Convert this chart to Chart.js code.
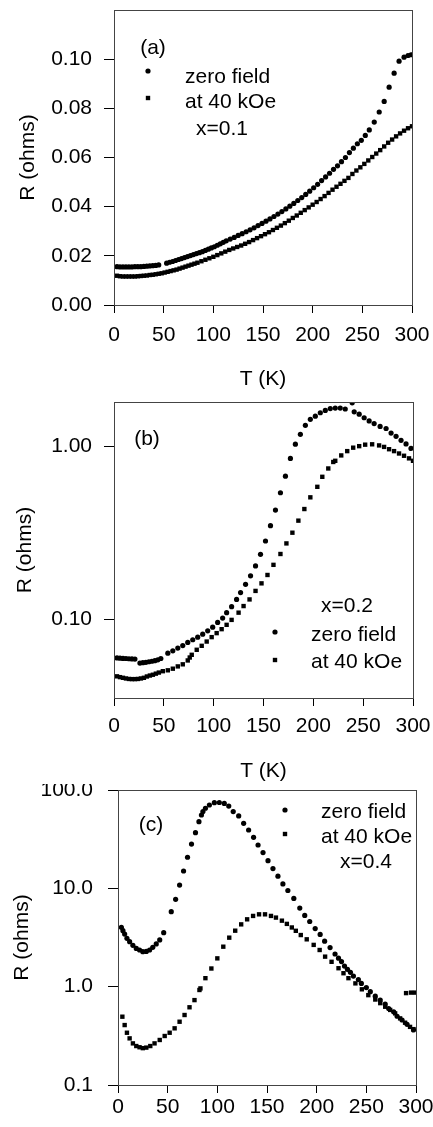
<!DOCTYPE html>
<html>
<head>
<meta charset="utf-8">
<script src="https://cdn.jsdelivr.net/npm/chart.js@4.4.1/dist/chart.umd.min.js"></script>
<style>
  html, body { margin: 0; padding: 0; background: #fff; }
  body { width: 433px; height: 1127px; position: relative; overflow: hidden; }
  canvas { position: absolute; left: 0; }
</style>
</head>
<body>
<canvas id="chartA" width="433" height="392" style="top:0px"></canvas>
<canvas id="chartB" width="433" height="392" style="top:392px"></canvas>
<canvas id="chartC" width="433" height="343" style="top:784px"></canvas>
<script>
// 공통 눈금
const xTicks = [0, 50, 100, 150, 200, 250, 300];
const aYTicks = [0, 0.02, 0.04, 0.06, 0.08, 0.10];
const bYTicks = [0.1, 1];
const cYTicks = [0.1, 1, 10, 100];

// (a) x=0.1
const aZeroT = [3,6,9,12,15,18,21,24,27,30,33,36,39,42,45,53,56,59,62,65,68,71,74,77,80,83,86,89,92,95,98,101,104,107,110,113,117,121,125,129,133,137,141,145,149,153,157,161,165,169,173,177,181,185,189,193,197,201,205,209,213,217,221,225,229,233,237,241,245,249,253,257,262,267,272,277,282,287,292,296,299];
const aZeroR = [0.0156,0.0155,0.0155,0.0155,0.0155,0.0155,0.0156,0.0156,0.0156,0.0157,0.0158,0.0159,0.0160,0.0161,0.0163,0.0170,0.0174,0.0177,0.0181,0.0185,0.0189,0.0193,0.0197,0.0201,0.0205,0.0209,0.0213,0.0217,0.0222,0.0227,0.0232,0.0237,0.0243,0.0249,0.0255,0.0261,0.0268,0.0275,0.0283,0.0290,0.0298,0.0306,0.0314,0.0323,0.0332,0.0341,0.0350,0.0360,0.0370,0.0380,0.0391,0.0402,0.0413,0.0425,0.0437,0.0450,0.0463,0.0477,0.0491,0.0506,0.0521,0.0536,0.0552,0.0566,0.0583,0.0600,0.0620,0.0638,0.0656,0.0670,0.0690,0.0712,0.0744,0.0785,0.0828,0.0886,0.0943,0.0992,0.1008,0.1015,0.1018];
const aFieldT = [3,6,9,12,15,18,21,24,27,30,33,36,39,42,45,48,51,54,57,60,63,66,69,72,75,78,81,84,88,92,96,100,104,108,112,116,120,124,128,132,136,140,144,148,152,156,160,164,168,172,176,180,184,188,192,196,200,204,208,212,216,220,224,228,232,236,240,244,248,252,256,260,264,268,272,276,280,284,288,292,296,300];
const aFieldR = [0.0119,0.0117,0.0116,0.0116,0.0116,0.0116,0.0116,0.0117,0.0118,0.0119,0.0120,0.0122,0.0123,0.0125,0.0127,0.0129,0.0132,0.0135,0.0138,0.0141,0.0144,0.0148,0.0152,0.0156,0.0160,0.0164,0.0168,0.0172,0.0178,0.0184,0.0190,0.0196,0.0203,0.0210,0.0217,0.0224,0.0230,0.0236,0.0242,0.0249,0.0256,0.0264,0.0272,0.0280,0.0288,0.0296,0.0305,0.0314,0.0323,0.0333,0.0343,0.0354,0.0364,0.0375,0.0386,0.0397,0.0408,0.0419,0.0431,0.0443,0.0456,0.0469,0.0481,0.0493,0.0505,0.0517,0.0533,0.0547,0.0560,0.0574,0.0588,0.0602,0.0616,0.0630,0.0645,0.0660,0.0673,0.0686,0.0698,0.0709,0.0719,0.0727];

// (b) x=0.2
const bZeroT = [3,6,9,12,15,18,21,26,29,32,35,38,41,44,47,54,59,64,69,74,79,84,89,94,99,104,109,113,118,123,127,132,137,142,147,152,157,162,167,172,177,182,187,192,197,202,207,212,217,222,227,232,239,241,246,251,256,261,267,273,278,283,288,293,298];
const bZeroR = [0.0597,0.0595,0.0593,0.0592,0.0590,0.0589,0.0588,0.0557,0.0560,0.0563,0.0567,0.0571,0.0575,0.0582,0.0592,0.0636,0.0656,0.0680,0.0703,0.0733,0.0760,0.0787,0.0819,0.0856,0.0899,0.0957,0.1014,0.109,0.118,0.130,0.1425,0.159,0.178,0.203,0.237,0.283,0.347,0.427,0.538,0.671,0.849,1.027,1.17,1.32,1.43,1.49,1.56,1.61,1.65,1.66,1.66,1.64,1.78,1.58,1.53,1.46,1.40,1.35,1.30,1.265,1.19,1.14,1.08,1.03,0.97];
const bFieldT = [3,6,9,12,15,18,21,24,27,30,33,36,39,42,45,49,54,59,64,69,74,76,78,83,88,93,98,103,108,113,118,125,130,136,142,148,154,160,167,173,179,185,191,197,204,209,215,220,222,228,234,240,246,252,259,266,271,276,281,286,291,296,300];
const bFieldR = [0.0467,0.0462,0.0458,0.0454,0.0451,0.0450,0.0450,0.0451,0.0454,0.0458,0.0466,0.0472,0.0477,0.0484,0.0491,0.0500,0.0506,0.0517,0.0533,0.0548,0.0577,0.0600,0.0622,0.0665,0.0701,0.0742,0.0787,0.083,0.0875,0.0927,0.099,0.109,0.119,0.130,0.1456,0.161,0.180,0.206,0.238,0.274,0.316,0.371,0.433,0.506,0.582,0.665,0.743,0.81,0.823,0.884,0.936,0.98,1.0,1.02,1.025,1.01,0.99,0.96,0.936,0.907,0.88,0.85,0.823];

// (c) x=0.4
const cZeroT = [3.4,5,6.7,9,11.7,15,18.4,21.7,25,28.5,31.8,35,38.5,42,46,53.6,58,62,66,70,74,78,81.5,84,85.5,88,92,97,102,107,111.5,116,121.5,126.5,131.5,136.5,141,146,151,156,161,166,171,177,183,188,193,198.5,203.5,208,213.5,218.5,222,225,228,231,234,237,242,245,250,254,259,264,269,272.5,277.5,281,286,291,297.5];
const cZeroR = [4.01,3.71,3.43,3.10,2.87,2.63,2.45,2.36,2.27,2.28,2.36,2.51,2.72,2.99,3.54,5.79,7.73,10.8,15.0,20.7,28.2,36.8,47.6,55.7,60.3,65.2,70.4,74.3,74.6,73.1,68.7,60.3,54.5,45.8,39.2,33.0,27.6,23.1,19.1,15.9,13.3,11.1,9.5,7.9,6.3,5.3,4.6,3.9,3.4,2.9,2.5,2.15,1.95,1.8,1.62,1.5,1.4,1.28,1.18,1.08,0.98,0.89,0.80,0.73,0.665,0.60,0.556,0.50,0.458,0.414,0.363];
const cFieldT = [4.4,6.7,9,11.7,15,18.4,21.7,25,28.5,32.5,36.8,42,47,52,57,62,67,72,77,82,83,88,94,100,106,112,118,124,130,136,142,148,154,159,165,170,175,179,184,190,197,203,208.5,215,222,227,232,239,245.5,252,259,264,269,274,279,284,289,294,297.5,290,295,299];
const cFieldR = [0.495,0.407,0.34,0.298,0.265,0.249,0.242,0.237,0.24,0.249,0.265,0.287,0.315,0.34,0.377,0.44,0.515,0.617,0.73,0.925,0.96,1.22,1.53,1.94,2.55,3.15,3.71,4.30,4.84,5.24,5.44,5.44,5.24,5.04,4.69,4.35,4.0,3.7,3.35,3.03,2.66,2.36,2.02,1.79,1.54,1.37,1.22,1.08,0.94,0.82,0.74,0.68,0.625,0.58,0.535,0.476,0.43,0.39,0.37,0.86,0.87,0.87];

const fontFamily = "'Liberation Sans', Arial, sans-serif";
const ink = '#000';

function pts(tArr, rArr){
  return tArr.map((t, i) => ({x: t, y: rArr[i]}));
}

// 라벨 때문에 생기는 여백 제거 (위치는 layout.padding 으로만 결정)
function noLabelPadding(s){
  s.paddingTop = 0;
  s.paddingBottom = 0;
  s.paddingLeft = 0;
  s.paddingRight = 0;
}

// 범례, 패널 라벨, 외곽선
const notesPlugin = {
  id: 'notes',
  afterDatasetsDraw(chart, args, opts){
    const {ctx, chartArea} = chart;
    ctx.save();
    ctx.fillStyle = ink;
    ctx.font = '21px ' + fontFamily;
    ctx.textBaseline = 'middle';
    (opts.texts || []).forEach((n) => {
      ctx.textAlign = n.align || 'left';
      ctx.fillText(n.text, chartArea.left + n.x, chartArea.top + n.y);
    });
    (opts.marks || []).forEach((m) => {
      Chart.helpers.drawPoint(ctx, {pointStyle: m.style, radius: m.r, borderWidth: 0, rotation: 0},
        chartArea.left + m.x, chartArea.top + m.y);
    });
    ctx.strokeStyle = '#444';
    ctx.lineWidth = 1;
    ctx.strokeRect(chartArea.left + 0.5, chartArea.top + 0.5, chartArea.width, chartArea.height);
    ctx.restore();
  }
};

function makePanel(id, p){
  const tickFont = {family: fontFamily, size: 21};
  return new Chart(document.getElementById(id), {
    type: 'scatter',
    data: {
      datasets: [
        {label: 'zero field', data: p.zero, pointStyle: 'circle', pointRadius: 2.6, backgroundColor: ink, borderWidth: 0},
        {label: 'at 40 kOe', data: p.field, pointStyle: 'rect', pointRadius: 3.1, backgroundColor: ink, borderWidth: 0}
      ]
    },
    options: {
      responsive: false,
      animation: false,
      devicePixelRatio: 1,
      layout: {padding: {top: p.top, right: p.right, bottom: 0, left: 0}},
      plugins: {
        legend: {display: false},
        tooltip: {enabled: false},
        notes: p.notes
      },
      scales: {
        x: {
          type: 'linear',
          min: 0, max: 300,
          afterBuildTicks: (s) => { s.ticks = xTicks.map(v => ({value: v})); },
          afterFit: (s) => { s.height = p.xh; noLabelPadding(s); },
          grid: {drawOnChartArea: false, drawTicks: true, tickLength: 8, color: ink},
          border: {color: ink},
          ticks: {color: ink, font: tickFont, padding: p.xpad, maxRotation: 0, autoSkip: false},
          title: {display: !!p.xTitle, text: p.xTitle, color: ink, font: tickFont, padding: 0}
        },
        y: {
          type: p.yType,
          min: p.yMin, max: p.yMax,
          afterBuildTicks: (s) => { s.ticks = p.yTicks.map(v => ({value: v})); },
          afterFit: (s) => { s.width = p.yw; noLabelPadding(s); },
          grid: {drawOnChartArea: false, drawTicks: true, tickLength: 10, color: ink},
          border: {color: ink},
          ticks: {color: ink, font: tickFont, padding: p.ypad, callback: (v) => Number(v).toFixed(p.digits)},
          title: {display: true, text: 'R (ohms)', color: ink, font: tickFont, padding: {top: p.ytp, bottom: 0}}
        }
      }
    },
    plugins: [notesPlugin]
  });
}

makePanel('chartA', {
  zero: pts(aZeroT, aZeroR), field: pts(aFieldT, aFieldR),
  top: 10, right: 21, xh: 87, yw: 114, xpad: 10, ypad: 12, ytp: 16,
  xTitle: 'T (K)', yType: 'linear', yMin: 0, yMax: 0.12, yTicks: aYTicks, digits: 2,
  notes: {
    texts: [
      {text: '(a)', x: 39, y: 38, align: 'center'},
      {text: 'zero field', x: 71, y: 67},
      {text: 'at 40 kOe', x: 71, y: 92},
      {text: 'x=0.1', x: 108, y: 119, align: 'center'}
    ],
    marks: [{style: 'circle', r: 2.6, x: 34, y: 61}, {style: 'rect', r: 3.1, x: 34, y: 88}]
  }
});

makePanel('chartB', {
  zero: pts(bZeroT, bZeroR), field: pts(bFieldT, bFieldR),
  top: 10, right: 20, xh: 86, yw: 114, xpad: 8, ypad: 12, ytp: 13,
  xTitle: 'T (K)', yType: 'logarithmic', yMin: 0.035, yMax: 1.8, yTicks: bYTicks, digits: 2,
  notes: {
    texts: [
      {text: '(b)', x: 33, y: 37, align: 'center'},
      {text: 'x=0.2', x: 233, y: 204, align: 'center'},
      {text: 'zero field', x: 197, y: 233},
      {text: 'at 40 kOe', x: 197, y: 260}
    ],
    marks: [{style: 'circle', r: 2.6, x: 161, y: 230}, {style: 'rect', r: 3.1, x: 161, y: 258}]
  }
});

makePanel('chartC', {
  zero: pts(cZeroT, cZeroR), field: pts(cFieldT, cFieldR),
  top: 6, right: 17, xh: 42, yw: 118, xpad: 2, ypad: 15, ytp: 10,
  xTitle: '', yType: 'logarithmic', yMin: 0.1, yMax: 100, yTicks: cYTicks, digits: 1,
  notes: {
    texts: [
      {text: '(c)', x: 33, y: 35, align: 'center'},
      {text: 'zero field', x: 203, y: 22},
      {text: 'at 40 kOe', x: 203, y: 47},
      {text: 'x=0.4', x: 248, y: 72, align: 'center'}
    ],
    marks: [{style: 'circle', r: 2.6, x: 167, y: 20}, {style: 'rect', r: 3.1, x: 167, y: 44}]
  }
});
</script>
</body>
</html>
